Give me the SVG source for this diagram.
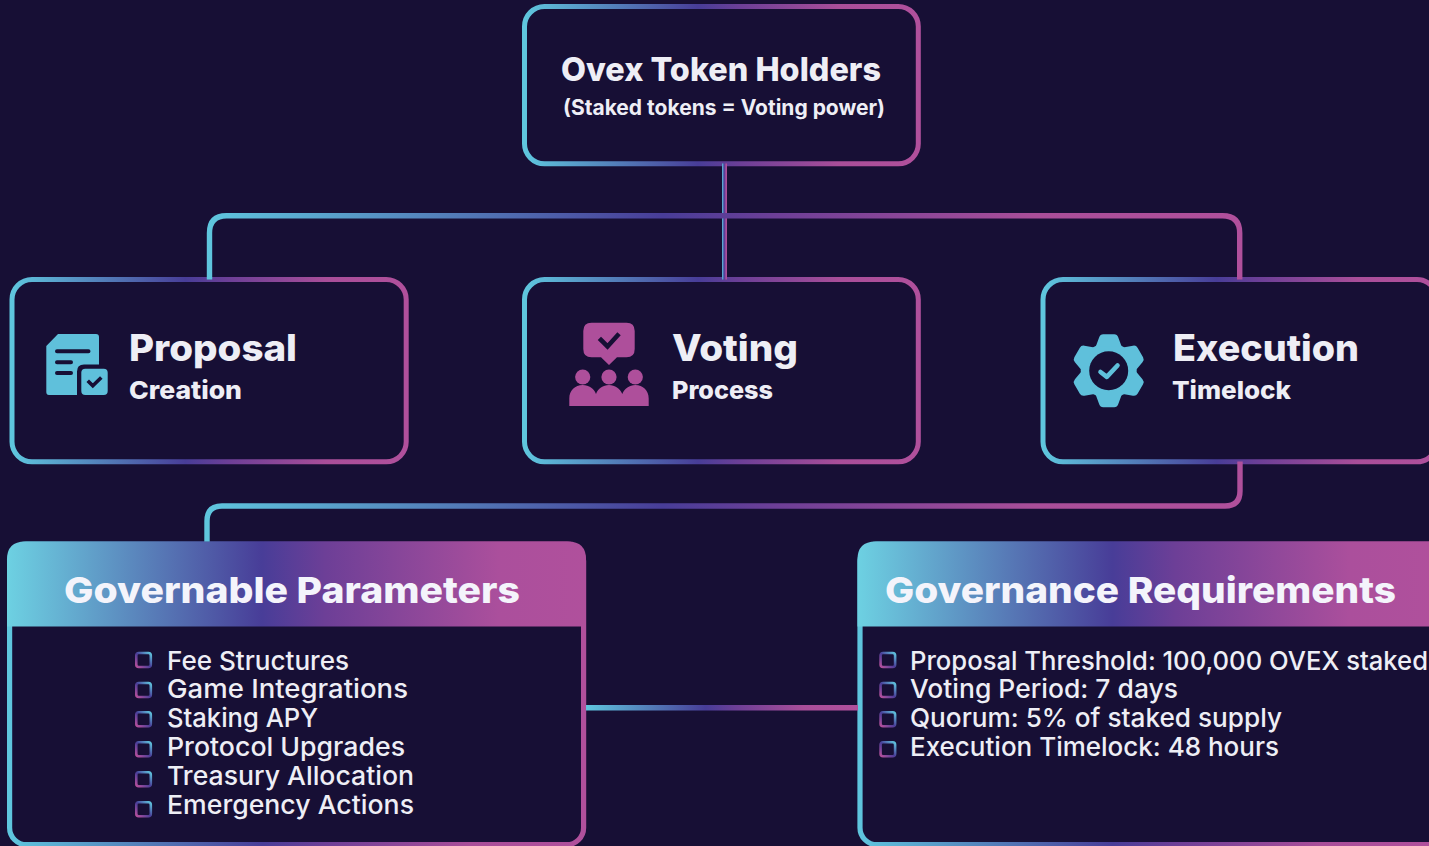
<svg xmlns="http://www.w3.org/2000/svg" xmlns:xlink="http://www.w3.org/1999/xlink" width="1429" height="846" viewBox="0 0 1429 846">
<style>
text{font-family:"Inter","Noto Sans","Liberation Sans",sans-serif;fill:#eeeef5}
.box{fill:#170f35;stroke:url(#g);stroke-width:5}
.line{fill:none;stroke-width:5.400}
.h1{font-size:33px;font-weight:800}
.h2{font-size:21px;font-weight:700}
.big{font-size:37px;font-weight:800}
.sub{font-size:25px;font-weight:800}
.head{font-size:36px;font-weight:800;fill:#f4f4fb}
.li{font-size:26px;font-weight:500}
.b{fill:none;stroke:url(#gb);stroke-width:2.600}
.cy{fill:#5fc0db}
.pk{fill:#ae4f9b}
.dk{fill:none;stroke:#170f35;stroke-linecap:square}
</style>
<defs>
<linearGradient id="g" x1="0" y1="0" x2="1" y2="0">
<stop offset="0" stop-color="#5fc6de"/><stop offset=".44" stop-color="#483d98"/><stop offset=".55" stop-color="#6d3f97"/><stop offset=".8" stop-color="#a94e99"/><stop offset="1" stop-color="#b0509c"/>
</linearGradient>
<linearGradient id="gu" gradientUnits="userSpaceOnUse" x1="207" y1="0" x2="1242" y2="0">
<stop offset="0" stop-color="#5fc6de"/><stop offset=".44" stop-color="#483d98"/><stop offset=".55" stop-color="#6d3f97"/><stop offset=".8" stop-color="#a94e99"/><stop offset="1" stop-color="#b0509c"/>
</linearGradient>
<linearGradient id="gm" gradientUnits="userSpaceOnUse" x1="586" y1="0" x2="858" y2="0">
<stop offset="0" stop-color="#5fc6de"/><stop offset=".44" stop-color="#483d98"/><stop offset=".55" stop-color="#6d3f97"/><stop offset=".8" stop-color="#a94e99"/><stop offset="1" stop-color="#b0509c"/>
</linearGradient>
<linearGradient id="gr" gradientUnits="userSpaceOnUse" x1="857.500" y1="0" x2="1436.500" y2="0">
<stop offset="0" stop-color="#5fc6de"/><stop offset=".44" stop-color="#483d98"/><stop offset=".55" stop-color="#6d3f97"/><stop offset=".8" stop-color="#a94e99"/><stop offset="1" stop-color="#b0509c"/>
</linearGradient>
<linearGradient id="gh" x1="0" y1="0" x2="1" y2="0">
<stop offset="0" stop-color="#6dd1e2"/><stop offset=".44" stop-color="#483d98"/><stop offset=".55" stop-color="#6d3f97"/><stop offset=".85" stop-color="#ab4f9c"/><stop offset="1" stop-color="#b0509c"/>
</linearGradient>
<linearGradient id="ghr" gradientUnits="userSpaceOnUse" x1="857.500" y1="0" x2="1436.500" y2="0">
<stop offset="0" stop-color="#6dd1e2"/><stop offset=".44" stop-color="#483d98"/><stop offset=".55" stop-color="#6d3f97"/><stop offset=".85" stop-color="#ab4f9c"/><stop offset="1" stop-color="#b0509c"/>
</linearGradient>
<linearGradient id="gb" x1="1" y1="0" x2="0" y2="1">
<stop offset="0" stop-color="#5fc6de"/><stop offset=".5" stop-color="#483d98"/><stop offset="1" stop-color="#b8509c"/>
</linearGradient>
<path id="tooth" d="M-13 -24L-9.500 -33.500Q-8.500 -36.500 -5.500 -36.500H5.500Q8.500 -36.500 9.500 -33.500L13 -24Z"/>
</defs>
<rect width="1429" height="846" fill="#170f35"/>

<g id="token-holders">
<rect class="box" x="524.500" y="6.500" width="393.800" height="157.300" rx="20"/>
<text class="h1" x="561" y="81" textLength="320" lengthAdjust="spacingAndGlyphs">Ovex Token Holders</text>
<text class="h2" x="563" y="115" textLength="322" lengthAdjust="spacingAndGlyphs">(Staked tokens = Voting power)</text>
</g>

<g id="proposal">
<rect class="box" x="12" y="279.500" width="394.200" height="182.300" rx="20"/>
<path class="cy" d="M58 334H96Q99 334 99 337V364.500H84Q77 364.500 77 371.500V395H49Q46.300 395 46.300 392V346Z"/>
<rect class="cy" x="81.300" y="368.700" width="26.400" height="26.300" rx="4"/>
<path d="M57 351.300H88.500M57 362.300H71M57 373H71" fill="none" stroke="#170f35" stroke-width="4" stroke-linecap="round"/>
<path d="M89 382L92.800 385.800L100 378.800" class="dk" stroke-width="3.600"/>
<text class="big" x="129" y="361" textLength="168" lengthAdjust="spacingAndGlyphs">Proposal</text>
<text class="sub" x="129" y="399" textLength="113" lengthAdjust="spacingAndGlyphs">Creation</text>
</g>

<g id="voting">
<rect class="box" x="524.500" y="279.500" width="393.800" height="182.300" rx="20"/>
<path class="pk" d="M591.500 322.700H626.500Q634.700 322.700 634.700 331V349Q634.700 357.300 626.500 357.300H617L609 365L601 357.300H591.500Q583.300 357.300 583.300 349V331Q583.300 322.700 591.500 322.700Z"/>
<path d="M601 340L607.500 346.500L617.500 335.500" class="dk" stroke-width="4.600"/>
<circle class="pk" cx="582.700" cy="377" r="7.600"/><circle class="pk" cx="609" cy="377" r="7.600"/><circle class="pk" cx="635.300" cy="377" r="7.600"/>
<path class="pk" d="M569.300 406V398.500C569.300 390.500 575 385 582.700 385C589 385 594 388.500 596 394C598 388.500 603 385 609 385C615 385 620 388.500 622.300 394C624.500 388.500 629.500 385 635.300 385C643 385 648.700 390.500 648.700 398.500V406Z"/>
<text class="big" x="672" y="361" textLength="126" lengthAdjust="spacingAndGlyphs">Voting</text>
<text class="sub" x="672" y="399" textLength="101" lengthAdjust="spacingAndGlyphs">Process</text>
</g>

<g id="execution">
<rect class="box" x="1043" y="279.500" width="394" height="182.300" rx="20"/>
<g class="cy" transform="translate(1108.700 370.700)">
<circle r="28"/>
<use xlink:href="#tooth" href="#tooth"/>
<use xlink:href="#tooth" href="#tooth" transform="rotate(60)"/>
<use xlink:href="#tooth" href="#tooth" transform="rotate(120)"/>
<use xlink:href="#tooth" href="#tooth" transform="rotate(180)"/>
<use xlink:href="#tooth" href="#tooth" transform="rotate(240)"/>
<use xlink:href="#tooth" href="#tooth" transform="rotate(300)"/>
<circle r="19.500" fill="#170f35"/>
</g>
<path d="M1100.500 372L1106.800 376.800L1117.500 365.500" fill="none" stroke="#5fc0db" stroke-width="4.600" stroke-linecap="round" stroke-linejoin="round"/>
<text class="big" x="1173" y="361" textLength="186" lengthAdjust="spacingAndGlyphs">Execution</text>
<text class="sub" x="1172" y="399" textLength="119" lengthAdjust="spacingAndGlyphs">Timelock</text>
</g>

<g id="governable-parameters">
<rect x="9.600" y="544" width="574" height="300.700" rx="17" fill="#170f35" stroke="url(#g)" stroke-width="5.200"/>
<path fill="url(#gh)" d="M25 541.500H568Q586 541.500 586 559.500V626.500H7V559.500Q7 541.500 25 541.500Z"/>
<text class="head" x="64" y="603" textLength="456" lengthAdjust="spacingAndGlyphs">Governable Parameters</text>
<rect class="b" x="136.300" y="653" width="14.500" height="14" rx="2.500"/>
<rect class="b" x="136.300" y="683" width="14.500" height="14" rx="2.500"/>
<rect class="b" x="136.300" y="712.300" width="14.500" height="14" rx="2.500"/>
<rect class="b" x="136.300" y="742.300" width="14.500" height="14" rx="2.500"/>
<rect class="b" x="136.300" y="772.300" width="14.500" height="14" rx="2.500"/>
<rect class="b" x="136.300" y="802.300" width="14.500" height="14" rx="2.500"/>
<text class="li" x="167" y="670" textLength="182" lengthAdjust="spacingAndGlyphs">Fee Structures</text>
<text class="li" x="167" y="698" textLength="241" lengthAdjust="spacingAndGlyphs">Game Integrations</text>
<text class="li" x="167" y="727" textLength="151" lengthAdjust="spacingAndGlyphs">Staking APY</text>
<text class="li" x="167" y="756" textLength="238" lengthAdjust="spacingAndGlyphs">Protocol Upgrades</text>
<text class="li" x="167" y="785" textLength="247" lengthAdjust="spacingAndGlyphs">Treasury Allocation</text>
<text class="li" x="167" y="814" textLength="247" lengthAdjust="spacingAndGlyphs">Emergency Actions</text>
</g>

<g id="governance-requirements">
<rect x="860" y="544" width="600" height="300.700" rx="17" fill="#170f35" stroke="url(#gr)" stroke-width="5.200"/>
<path fill="url(#ghr)" d="M875.500 541.500H1465V626.500H857.500V559.500Q857.500 541.500 875.500 541.500Z"/>
<text class="head" x="885" y="603" textLength="511" lengthAdjust="spacingAndGlyphs">Governance Requirements</text>
<rect class="b" x="880.600" y="653" width="14.500" height="14" rx="2.500"/>
<rect class="b" x="880.600" y="683" width="14.500" height="14" rx="2.500"/>
<rect class="b" x="880.600" y="712.300" width="14.500" height="14" rx="2.500"/>
<rect class="b" x="880.600" y="742.300" width="14.500" height="14" rx="2.500"/>
<text class="li" x="910" y="670" textLength="518" lengthAdjust="spacingAndGlyphs">Proposal Threshold: 100,000 OVEX staked</text>
<text class="li" x="910" y="698" textLength="268" lengthAdjust="spacingAndGlyphs">Voting Period: 7 days</text>
<text class="li" x="910" y="727" textLength="372" lengthAdjust="spacingAndGlyphs">Quorum: 5% of staked supply</text>
<text class="li" x="910" y="756" textLength="369" lengthAdjust="spacingAndGlyphs">Execution Timelock: 48 hours</text>
</g>

<g id="connectors">
<rect x="722" y="163.500" width="5" height="116" fill="url(#g)"/>
<path class="line" stroke="url(#gu)" d="M209.500 279.500V233Q209.500 215.800 226.500 215.800H1222.500Q1239.700 215.800 1239.700 233V279.500"/>
<path class="line" stroke="url(#gu)" d="M1240 461.500V491Q1240 506 1225 506H222Q207 506 207 521V541.500"/>
<path class="line" stroke="url(#gm)" d="M586 707.800H858"/>
</g>
</svg>
